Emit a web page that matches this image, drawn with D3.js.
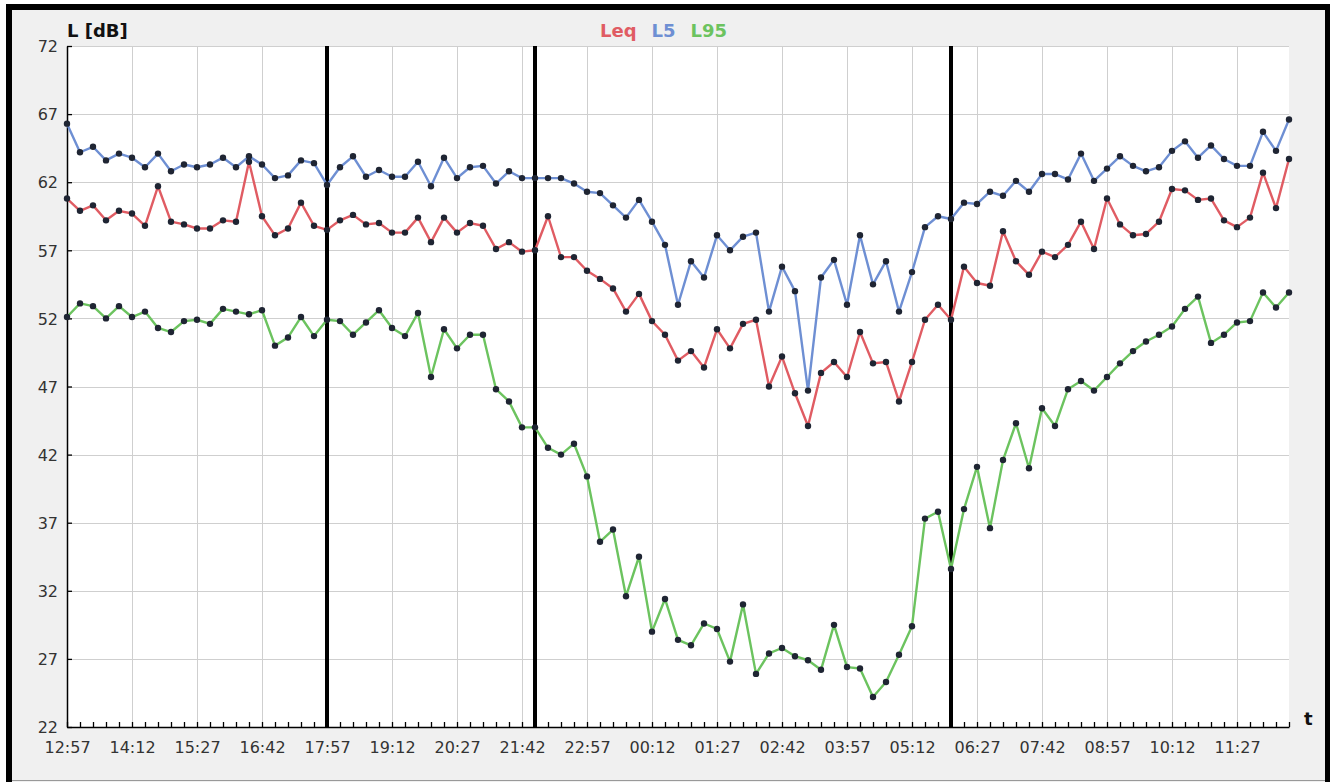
<!DOCTYPE html>
<html>
<head>
<meta charset="utf-8">
<script src="https://cdn.jsdelivr.net/npm/d3@7"></script>
<style>
html,body{margin:0;padding:0;background:#fff;}
svg{display:block;font-family:"DejaVu Sans",Verdana,sans-serif;}
</style>
</head>
<body>
<div id="chart"></div>
<script>
// measurement every 15 minutes, starting 12:57
const startTime = '12:57'
const stepMinutes = 15

const leq = [60.8,59.9,60.3,59.2,59.9,59.7,58.8,61.7,59.1,58.9,58.6,58.6,59.2,59.1,63.5,59.5,
	58.1,58.6,60.5,58.8,58.5,59.2,59.6,58.9,59.0,58.3,58.3,59.4,57.6,59.4,58.3,59.0,
	58.8,57.1,57.6,56.9,57.0,59.5,56.5,56.5,55.5,54.9,54.2,52.5,53.8,51.8,50.8,48.9,
	49.6,48.4,51.2,49.8,51.6,51.9,47.0,49.2,46.5,44.1,48.0,48.8,47.7,51.0,48.7,48.8,
	45.9,48.8,51.9,53.0,51.9,55.8,54.6,54.4,58.4,56.2,55.2,56.9,56.5,57.4,59.1,57.1,
	60.8,58.9,58.1,58.2,59.1,61.5,61.4,60.7,60.8,59.2,58.7,59.4,62.7,60.1,63.7]

const l5 = [66.3,64.2,64.6,63.6,64.1,63.8,63.1,64.1,62.8,63.3,63.1,63.3,63.8,63.1,63.9,63.3,
	62.3,62.5,63.6,63.4,61.8,63.1,63.9,62.4,62.9,62.4,62.4,63.5,61.7,63.8,62.3,63.1,
	63.2,61.9,62.8,62.3,62.3,62.3,62.3,61.9,61.3,61.2,60.3,59.4,60.7,59.1,57.4,53.0,
	56.2,55.0,58.1,57.0,58.0,58.3,52.5,55.8,54.0,46.7,55.0,56.3,53.0,58.1,54.5,56.2,
	52.5,55.4,58.7,59.5,59.3,60.5,60.4,61.3,61.0,62.1,61.3,62.6,62.6,62.2,64.1,62.1,
	63.0,63.9,63.2,62.8,63.1,64.3,65.0,63.8,64.7,63.7,63.2,63.2,65.7,64.3,66.6]

const l95 = [52.1,53.1,52.9,52.0,52.9,52.1,52.5,51.3,51.0,51.8,51.9,51.6,52.7,52.5,52.3,52.6,
	50.0,50.6,52.1,50.7,51.9,51.8,50.8,51.7,52.6,51.3,50.7,52.4,47.7,51.2,49.8,50.8,
	50.8,46.8,45.9,44.0,44.0,42.5,42.0,42.8,40.4,35.6,36.5,31.6,34.5,29.0,31.4,28.4,
	28.0,29.6,29.2,26.8,31.0,25.9,27.4,27.8,27.2,26.9,26.2,29.5,26.4,26.3,24.2,25.3,
	27.3,29.4,37.3,37.8,33.6,38.0,41.1,36.6,41.6,44.3,41.0,45.4,44.1,46.8,47.4,46.7,
	47.7,48.7,49.6,50.3,50.8,51.4,52.7,53.6,50.2,50.8,51.7,51.8,53.9,52.8,53.9]

const seriesNames = ['Leq','L5','L95']
const tickLabels = ['12:57','14:12','15:27','16:42','17:57','19:12','20:27','21:42','22:57',
	'00:12','01:27','02:42','03:57','05:12','06:27','07:42','08:57','10:12','11:27']
const yTicks = [22,27,32,37,42,47,52,57,62,67,72]
const markers = ['17:57','21:57','05:57']

const width = 1330, height = 782
const plot = {left:67, top:46, right:1289, bottom:727}

function clock(s){
	const [h,m] = s.split(':').map(Number)
	return new Date(2000,0,1,h,m)
}
const t0 = clock(startTime)
// times before the start belong to the next day
function toTime(s){
	const t = clock(s)
	return t < t0 ? d3.timeDay.offset(t,1) : t
}
const n = leq.length
const times = d3.range(n).map(i => d3.timeMinute.offset(t0, i*stepMinutes))

const x = d3.scaleTime().domain([times[0], times[n-1]]).range([plot.left, plot.right])
const y = d3.scaleLinear().domain([22,72]).range([plot.bottom, plot.top])
const color = d3.scaleOrdinal(seriesNames, ['#e05c63','#6e8fd3','#6cc35f'])

const svg = d3.select('#chart').append('svg')
	.attr('width',width).attr('height',height)

// frame
svg.append('rect').attr('width',width).attr('height',height).attr('fill','#fff')
svg.append('rect').attr('x',6).attr('y',4).attr('width',width-6).attr('height',height-4).attr('fill','#f0f0f0')
svg.append('rect').attr('x',6).attr('y',4).attr('width',width-6).attr('height',6).attr('fill','#000')
svg.append('rect').attr('x',6).attr('y',4).attr('width',6).attr('height',height-4).attr('fill','#000')
svg.append('rect').attr('x',1325).attr('y',4).attr('width',5).attr('height',height-4).attr('fill','#000')
svg.append('line').attr('x1',12).attr('x2',1325).attr('y1',780.5).attr('y2',780.5).attr('stroke','#999')

svg.append('rect')
	.attr('x',plot.left).attr('y',plot.top)
	.attr('width',plot.right-plot.left).attr('height',plot.bottom-plot.top)
	.attr('fill','#fff')

// grid
const majors = tickLabels.map(toTime)
svg.append('g').selectAll('line').data(yTicks.slice(1)).enter().append('line')
	.attr('x1',plot.left).attr('x2',plot.right)
	.attr('y1',d => Math.round(y(d))+0.5).attr('y2',d => Math.round(y(d))+0.5)
	.attr('stroke','#cfcfcf')
svg.append('g').selectAll('line').data(majors.slice(1)).enter().append('line')
	.attr('x1',d => Math.round(x(d))+0.5).attr('x2',d => Math.round(x(d))+0.5)
	.attr('y1',plot.top).attr('y2',plot.bottom)
	.attr('stroke','#cfcfcf')

// night markers
svg.append('g').selectAll('line').data(markers.map(toTime)).enter().append('line')
	.attr('x1',d => x(d)).attr('x2',d => x(d))
	.attr('y1',plot.top).attr('y2',plot.bottom)
	.attr('stroke','#000').attr('stroke-width',4)

// axes
svg.append('g').attr('transform',`translate(0,${plot.bottom})`)
	.call(d3.axisBottom(x).tickValues(times).tickSize(-5).tickSizeOuter(0).tickFormat(''))
const xMajor = svg.append('g').attr('transform',`translate(0,${plot.bottom})`)
	.call(d3.axisBottom(x).tickValues(majors).tickSize(0).tickPadding(15).tickFormat(d3.timeFormat('%H:%M')))
xMajor.select('.domain').remove()
const yAx = svg.append('g').attr('transform',`translate(${plot.left},0)`)
	.call(d3.axisLeft(y).tickValues(yTicks).tickSize(-5).tickSizeOuter(0).tickPadding(9))
svg.selectAll('.domain').attr('stroke','#000').attr('stroke-width',1.5)
svg.selectAll('.tick line').attr('stroke','#000').attr('stroke-width',1.3)
svg.selectAll('.tick text').attr('font-size',16).attr('fill','#333')
	.attr('font-family','"DejaVu Sans",Verdana,sans-serif')
yAx.selectAll('.tick text').attr('dy','0.36em')

// series
const series = [leq,l5,l95]
const line = d3.line().x((d,i) => x(times[i])).y(d => y(d))
series.forEach((vals,k) => {
	svg.append('path').datum(vals)
		.attr('d',line)
		.attr('fill','none')
		.attr('stroke',color(seriesNames[k]))
		.attr('stroke-width',2.4)
		.attr('stroke-linejoin','round')
})
series.forEach(vals => {
	svg.append('g').selectAll('circle').data(vals).enter().append('circle')
		.attr('cx',(d,i) => x(times[i]))
		.attr('cy',d => y(d))
		.attr('r',3.2)
		.attr('fill','#1f2533')
})

// titles
svg.append('text').attr('x',67).attr('y',37).text('L [dB]')
	.attr('font-size',18).attr('font-weight','bold').attr('fill','#111')
svg.append('text').attr('x',1304).attr('y',725).text('t')
	.attr('font-size',18).attr('font-weight','bold').attr('fill','#111')

// legend
let lx = 600
seriesNames.forEach(name => {
	const t = svg.append('text').attr('x',lx).attr('y',37).text(name)
		.attr('font-size',18).attr('font-weight','bold').attr('fill',color(name))
	lx += t.node().getComputedTextLength() + 15
})
</script>
</body>
</html>
